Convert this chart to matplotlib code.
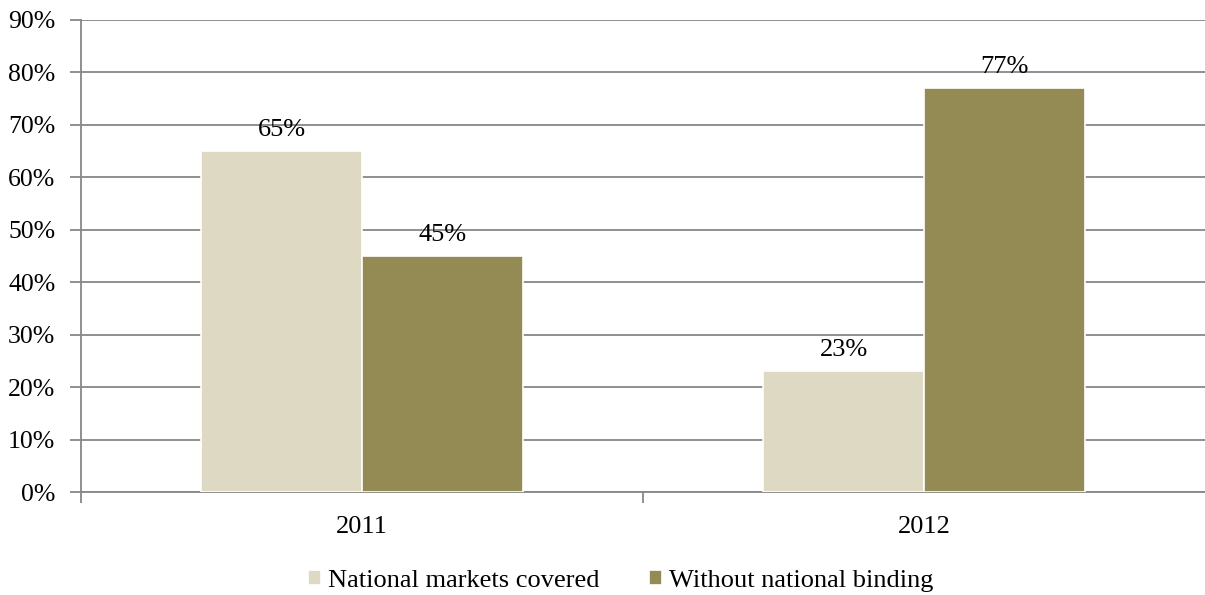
import numpy as np
import matplotlib.pyplot as plt
from matplotlib.ticker import PercentFormatter

years = ["2011", "2012"]
covered = [65, 23]
without_binding = [45, 77]
series_names = ["National markets covered", "Without national binding"]

plt.rcParams['font.family'] = ['Liberation Serif', 'DejaVu Serif']
plt.rcParams['font.size'] = 19

fig = plt.figure(figsize=(12.05, 5.95), dpi=100)
ax = fig.add_axes([0.0672, 0.1731, 0.933, 0.7933])

x = np.arange(len(years))
w = 0.286
b1 = ax.bar(x - w / 2, covered, w, color="#DDD9C3", edgecolor="white", linewidth=1.2,
            label=series_names[0], zorder=3)
b2 = ax.bar(x + w / 2, without_binding, w, color="#948A54", edgecolor="white", linewidth=1.2,
            label=series_names[1], zorder=3)

for bars in (b1, b2):
    for rect in bars:
        h = rect.get_height()
        ax.annotate(f"{h:.0f}%", (rect.get_x() + rect.get_width() / 2, h),
                    xytext=(0, 7.5), textcoords="offset points",
                    ha="center", va="bottom", fontsize=19)

ax.set_xlim(-0.5, 1.5)
ax.set_ylim(0, 90)
ax.set_yticks(range(0, 91, 10))
ax.yaxis.set_major_formatter(PercentFormatter(decimals=0))
ax.grid(axis="y", color="#878787", linewidth=1.3, zorder=0)

# category ticks sit between the groups
ax.set_xticks([-0.5, 0.5])
ax.set_xticklabels([])
ax.set_xticks(x, minor=True)
ax.set_xticklabels(years, minor=True)
ax.tick_params(axis="x", which="minor", length=0, pad=17)
ax.tick_params(axis="x", which="major", length=8, width=1.3, color="#878787")
ax.tick_params(axis="y", length=8, width=1.3, color="#878787", pad=10.5, labelsize=18.5)

for s in ["top", "right"]:
    ax.spines[s].set_visible(False)
for s in ["left", "bottom"]:
    ax.spines[s].set_color("#878787")
    ax.spines[s].set_linewidth(1.3)

ax.legend(loc="upper center", bbox_to_anchor=(0.48, -0.115), ncol=2, frameon=False,
          handlelength=0.5, handleheight=0.5, handletextpad=0.25, columnspacing=1.9,
          fontsize=19)

fig.savefig("out.png", dpi=100)
